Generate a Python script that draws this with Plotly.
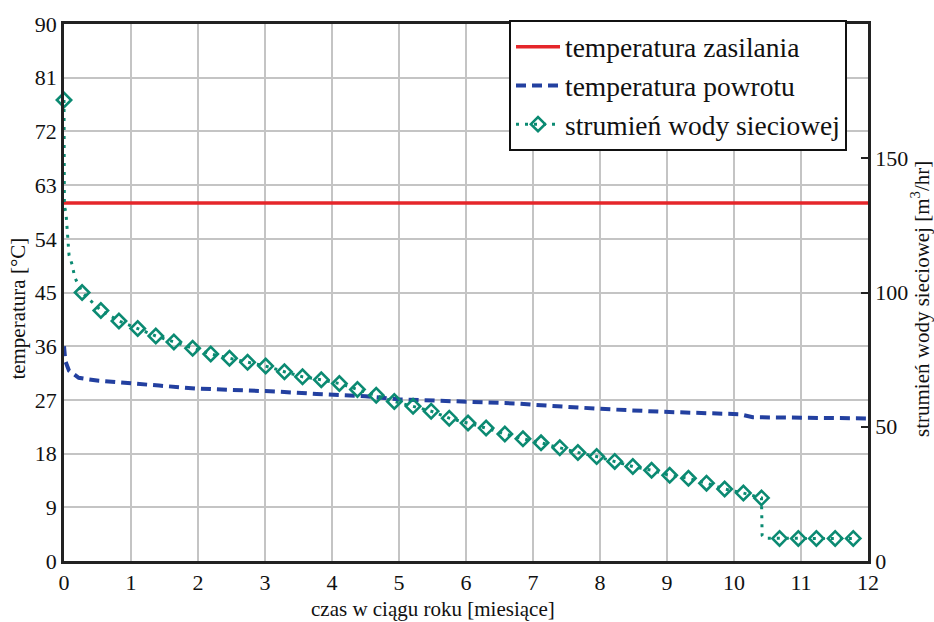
import plotly.graph_objects as go

# ---------------- data ----------------
# supply temperature [°C]
supply_months = [0, 12]
supply_temp = [60, 60]

# return temperature [°C]
return_months = [0, 0.02, 0.075, 0.22, 0.52, 0.93, 1.42, 1.97, 2.51, 3.17, 3.77,
                 4.5, 5.0, 5.9, 6.76, 7.0, 7.5, 8.0, 8.94, 10.09, 10.28, 12.0]
return_temp = [36.0, 33.5, 31.9, 30.7, 30.2, 29.9, 29.4, 28.9, 28.7, 28.4, 28.0,
               27.6, 27.1, 26.8, 26.4, 26.2, 25.8, 25.5, 25.0, 24.6, 24.1, 23.9]

# network water flow [m3/hr] - marked points (every 200 h)
flow_months = [0.00, 0.27, 0.55, 0.82, 1.10, 1.37, 1.64, 1.92, 2.19, 2.47, 2.74,
               3.01, 3.29, 3.56, 3.84, 4.11, 4.38, 4.66, 4.93, 5.21, 5.48, 5.75,
               6.03, 6.30, 6.58, 6.85, 7.12, 7.40, 7.67, 7.95, 8.22, 8.49, 8.77,
               9.04, 9.32, 9.59, 9.86, 10.14, 10.41, 10.68, 10.96, 11.23, 11.51, 11.78]
flow_values = [171.7, 100.0, 93.3, 89.4, 86.6, 83.8, 81.6, 79.2, 77.1, 75.5, 74.0,
               72.6, 70.5, 68.6, 67.5, 66.1, 63.9, 61.7, 59.4, 57.6, 55.8, 53.2,
               51.4, 49.5, 47.3, 45.5, 44.0, 42.2, 40.4, 38.9, 37.1, 35.2, 33.8,
               31.9, 30.8, 29.0, 26.8, 25.3, 23.5, 8.4, 8.4, 8.4, 8.4, 8.4]
# additional points of the continuous (dotted) flow curve
flow_extra_months = [0.005, 0.03, 0.075, 0.12, 0.16, 10.415, 10.42, 10.46]
flow_extra_values = [132.5, 129.5, 114.0, 110.5, 105.7, 15.0, 9.5, 8.5]

x_ticks = list(range(0, 13))
temp_ticks = list(range(0, 91, 9))
flow_ticks = [0, 50, 100, 150]

# ---------------- styling ----------------
RED = "#E5262A"
BLUE = "#2340A0"
TEAL = "#0B8A72"
FONT = "Liberation Serif"

curve = sorted(zip(flow_months + flow_extra_months, flow_values + flow_extra_values))
curve_x = [p[0] for p in curve]
curve_y = [p[1] for p in curve]

fig = go.Figure()
fig.add_trace(go.Scatter(x=supply_months, y=supply_temp, mode="lines",
                         name="temperatura zasilania", line=dict(color=RED, width=3.5)))
fig.add_trace(go.Scatter(x=return_months, y=return_temp, mode="lines",
                         name="temperatura powrotu",
                         line=dict(color=BLUE, width=4, dash="10px,6px"), cliponaxis=False))
fig.add_trace(go.Scatter(x=curve_x, y=curve_y, mode="lines", yaxis="y2",
                         line=dict(color=TEAL, width=3, dash="3px,6px"),
                         showlegend=False, cliponaxis=False, hoverinfo="skip"))
fig.add_trace(go.Scatter(x=flow_months, y=flow_values, mode="markers", yaxis="y2",
                         marker=dict(symbol="diamond-open", size=11, color=TEAL,
                                     line=dict(width=2.6, color=TEAL)),
                         showlegend=False, cliponaxis=False))
# legend entry for the flow series
fig.add_trace(go.Scatter(x=[None], y=[None], mode="lines+markers", yaxis="y2",
                         name="strumień wody sieciowej",
                         line=dict(color=TEAL, width=3, dash="3px,6px"),
                         marker=dict(symbol="diamond-open", size=11, color=TEAL,
                                     line=dict(width=2.6, color=TEAL))))

axis_line = "#222222"
grid = "#c4c4c4"

fig.update_layout(
    width=934, height=622,
    margin=dict(l=64, r=66, t=16, b=61),
    paper_bgcolor="white", plot_bgcolor="white",
    font=dict(family=FONT, size=22, color="#111111"),
    legend=dict(x=0.5535, y=0.885, xanchor="left", yanchor="middle",
                bgcolor="white", bordercolor="#111111", borderwidth=2,
                font=dict(family=FONT, size=27.5, color="#111111"),
                itemwidth=44, traceorder="normal"),
    xaxis=dict(range=[0, 12], tickvals=x_ticks, showgrid=True, gridcolor=grid, gridwidth=1.5,
               showline=True, linecolor=axis_line, linewidth=2.5, mirror=True,
               ticks="", zeroline=False, tickfont=dict(family=FONT, size=22)),
    yaxis=dict(range=[0, 90], tickvals=temp_ticks, showgrid=True, gridcolor=grid, gridwidth=1.5,
               showline=True, linecolor=axis_line, linewidth=2.5,
               ticks="", zeroline=False, tickfont=dict(family=FONT, size=22)),
    yaxis2=dict(range=[0, 200], tickvals=flow_ticks, overlaying="y", side="right",
                showgrid=False, zeroline=False, showline=True, linecolor=axis_line, linewidth=2.5,
                ticks="inside", ticklen=7, tickwidth=2, tickcolor=axis_line,
                tickfont=dict(family=FONT, size=22)),
    annotations=[
        dict(text="temperatura [°C]", xref="paper", yref="paper", x=-0.0572, y=0.47,
             textangle=-90, showarrow=False, xanchor="center", yanchor="middle",
             font=dict(family=FONT, size=21)),
        dict(text="strumień wody sieciowej [m<sup>3</sup>/hr]", xref="paper", yref="paper",
             x=1.066, y=0.488, textangle=-90, showarrow=False,
             xanchor="center", yanchor="middle", font=dict(family=FONT, size=21)),
        dict(text="czas w ciągu roku [miesiące]", xref="paper", yref="paper",
             x=0.459, y=-0.09, showarrow=False, xanchor="center", yanchor="middle",
             font=dict(family=FONT, size=21)),
    ],
)
fig.write_html("out.html")
